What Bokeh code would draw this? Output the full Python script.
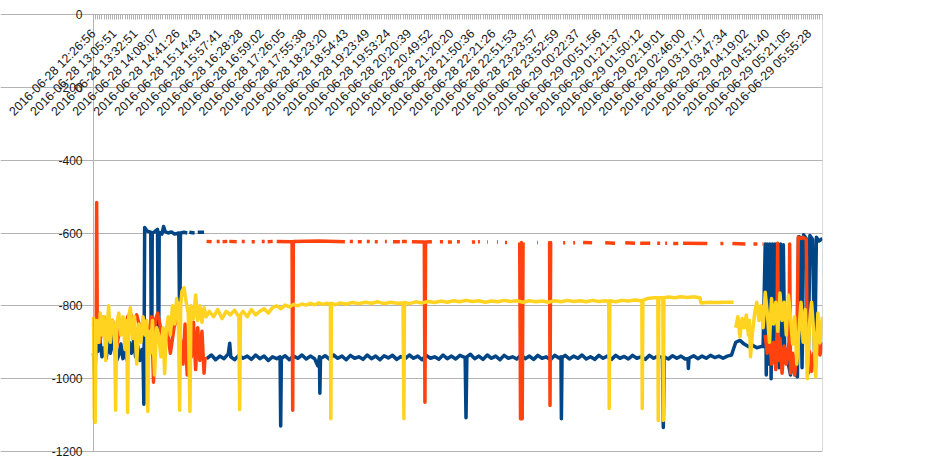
import numpy as np
from bokeh.plotting import figure
from bokeh.models import (Range1d, FixedTicker, LinearAxis, Legend, LegendItem, Grid,
                          LabelSet, ColumnDataSource)
from bokeh.core.properties import value
from bokeh.embed import file_html
from bokeh.resources import INLINE

# ---------------- data ----------------
tick_labels = [
    "2016-06-28 12:26:56", "2016-06-28 13:05:51", "2016-06-28 13:32:51", "2016-06-28 14:08:07",
    "2016-06-28 14:41:26", "2016-06-28 15:14:43", "2016-06-28 15:57:41", "2016-06-28 16:28:28",
    "2016-06-28 16:59:02", "2016-06-28 17:26:05", "2016-06-28 17:55:38", "2016-06-28 18:23:20",
    "2016-06-28 18:54:43", "2016-06-28 19:23:49", "2016-06-28 19:53:24", "2016-06-28 20:20:39",
    "2016-06-28 20:49:52", "2016-06-28 21:20:20", "2016-06-28 21:50:36", "2016-06-28 22:21:26",
    "2016-06-28 22:51:53", "2016-06-28 23:23:57", "2016-06-28 23:52:59", "2016-06-29 00:22:37",
    "2016-06-29 00:51:56", "2016-06-29 01:21:37", "2016-06-29 01:50:12", "2016-06-29 02:19:01",
    "2016-06-29 02:46:00", "2016-06-29 03:17:17", "2016-06-29 03:47:34", "2016-06-29 04:19:02",
    "2016-06-29 04:51:40", "2016-06-29 05:21:05", "2016-06-29 05:55:28",
]
tick_positions = [i * 10 for i in range(len(tick_labels))]   # sample index of each labelled category
n_samples = 346.2
y_ticks = [0, -200, -400, -600, -800, -1000, -1200]
y_tick_labels = ["0", "-200", "-400", "-600", "-800", "-1000", "-1200"]

series_names = ["rssi_6b2e", "rssi_52b1", "rssi a9d2"]

# (sample, rssi) points; None = missing values (gap)
rssi_6b2e = [
    (0, -930), (0.6, -1000), (1.2, -905), (2, -925), (3, -890), (4, -940), (5, -915), (6, -945),
    (7, -900), (8, -930), (9, -880), (10, -925), (11, -950), (12, -935), (13, -905), (14, -945),
    (15, -920), (16, -950), (17, -900), (18, -930), (19, -895), (20, -940), (21, -910), (22, -950),
    (23, -920), (23.5, -930), (23.9, -1070), (24.3, -585), (25.5, -595), (27.2, -598), (27.4, -900),
    (27.7, -905), (27.9, -600), (29, -597), (30.4, -590), (30.7, -880), (31.0, -885), (31.2, -598),
    (32.5, -603), (33.3, -582), (34, -596), (35.5, -600), (37, -597), (38.5, -603), (40.5, -600),
    (40.8, -780), (41.1, -785), (41.3, -600), (43, -598), (44.5, -600), None,
    (45.5, -598), (48, -600), None, (49.5, -598), (52.5, -598), None,
    (53.7, -945), (56, -935), (58, -948), (60, -938), (62, -945), (64, -932), (64.7, -903), (65.2, -940),
    (67, -948), (69, -936), (71, -944), (73, -938), (75, -947), (77, -935), (79, -945), (81, -938),
    (83, -950), (85, -940), (87, -945), (88.6, -940), (88.9, -1130), (89.2, -945), (91, -937),
    (93, -948), (95, -938), (97, -944), (99, -935), (101, -946), (103, -938), (105, -945),
    (106.5, -965), (107.3, -940), (107.5, -1040), (107.8, -945), (110, -937), (112, -946),
    (114, -935), (116, -944), (118, -938), (120, -948), (122, -936), (124, -944), (126, -940),
    (128, -947), (130, -935), (132, -945), (134, -938), (136, -948), (138, -937), (140, -943),
    (142, -936), (144, -947), (146, -939), (148, -945), (150, -935), (152, -944), (154, -938),
    (156, -948), (158, -936), (160, -944), (162, -940), (164, -947), (166, -935), (168, -945),
    (170, -938), (172, -946), (174, -936), (176.5, -942), (176.9, -1107), (177.3, -940),
    (179, -933), (181, -945), (183, -938), (185, -947), (187, -935), (189, -944), (191, -938),
    (193, -948), (195, -936), (197, -944), (199, -940), (201, -946), (203, -935), (205, -945),
    (207, -938), (209, -947), (211, -936), (213, -944), (215, -940), (217, -948), (219, -936),
    (221, -943), (222, -940), (222.2, -1110), (222.5, -942), (224, -936), (226, -946), (228, -938),
    (230, -944), (232, -935), (234, -946), (236, -940), (238, -947), (240, -936), (242, -944),
    (244, -938), (246, -947), (248, -936), (250, -944), (252, -939), (254, -946), (256, -936),
    (258, -944), (260, -940), (262, -947), (264, -936), (266, -944), (268, -938), (270.2, -942),
    (270.6, -1134), (271, -940), (273, -946), (275, -937), (277, -944), (279, -938), (281, -946),
    (282.3, -945), (282.5, -972), (282.8, -944), (285, -937), (287, -945), (289, -938), (291, -944),
    (293, -936), (295, -942), (297, -938), (299, -944), (301, -938), (303, -935), (305, -900),
    (307, -895), (309, -905), (311, -912), (313, -908), (315, -915), (317, -912), (318, -912),
    (319, -630), (319.5, -990), (320, -630), (320.6, -960), (321.2, -630), (321.8, -1000),
    (322.4, -630), (323, -940), (323.6, -630), (324.3, -920), (325, -635), (325.6, -970),
    (326.3, -630), (327, -925), (327.6, -632), (328.3, -950), (329, -920), (330, -960), (331, -990),
    (332, -945), (333, -985), (334.3, -995), (334.8, -610), (335.5, -612), (336.5, -970),
    (337.2, -605), (338.5, -615), (339.4, -985), (340.2, -607), (341.5, -618), (342.5, -960),
    (343.3, -612), (344.5, -622), (346.2, -615),
]

rssi_52b1 = [
    (0, -850), (0.8, -880), (1.3, -840), (1.5, -516), (1.8, -860), (3, -900), (5, -830), (7, -870),
    (9, -840), (11, -910), (13, -850), (15, -880), (16.2, -830), (17.5, -820), (19, -845),
    (20.5, -825), (22, -860), (24, -840), (26, -880), (27.6, -830), (28.5, -1010), (29.3, -840),
    (30.5, -820), (31.5, -850), (33, -900), (35, -860), (36.5, -930), (38.5, -850), (40, -840),
    (41.5, -900), (42.5, -960), (43.5, -850), (44.5, -990), (45.5, -880), (46.5, -940),
    (47.5, -845), (48.5, -975), (49.5, -860), (50.5, -950), (51.5, -870), (52.5, -985), (53, -940),
    None,
    (53.7, -623), (56.1, -624), None, (58.5, -623), (59.9, -623), None, (61.3, -624), (63.5, -623),
    None, (64.5, -623), (68, -624), None, (70.4, -623), (71.8, -623), None, (75.1, -624),
    (76.6, -624), None, (79.9, -623), (81.3, -623), None, (82.7, -624), (85.1, -623), None,
    (87, -623), (94.3, -624), (94.6, -1087), (94.9, -623), (107, -622), (119.4, -624), None,
    (121.7, -623), (123.2, -623), None, (125.5, -624), (127.4, -624), None, (129.8, -623),
    (131.2, -623), None, (133.6, -624), (135, -624), None, (138.4, -623), (139.3, -623), None,
    (142.2, -624), (145.5, -624), None, (146.5, -623), (148.8, -623), None,
    (151.2, -624), (157.1, -625), (157.4, -1065), (157.7, -625), (160.7, -624), None,
    (164.5, -624), (166, -624), None, (168.3, -625), (170.2, -625), None, (172.6, -624),
    (174, -624), None, (179.7, -625), (181.2, -625), None, (182.6, -624), (183.5, -624), None,
    (186.9, -625), (187.3, -625), None, (191.6, -625), (192.1, -625), None, (195.4, -626),
    (196.4, -626), None,
    (202.4, -626), (202.8, -1110), (203.2, -626), (203.6, -1110), (204, -626), None,
    (210.7, -626), (211.1, -626), None,
    (215.9, -627), (216.6, -627), (216.8, -1074), (217.1, -627), (217.8, -627), None,
    (223, -627), (224, -627), None, (227.8, -627), (228.7, -627), None, (232.5, -626),
    (236.8, -627), None, (243, -627), (247.7, -628), None, (252.5, -627), (257.2, -628), None,
    (259.6, -628), (264.4, -628), None, (267.7, -628), (269.1, -628), None, (271.5, -628),
    (272.4, -628), None, (275.3, -629), (277.7, -629), None, (280, -628), (291.5, -629), None,
    (297.7, -629), (299.1, -629), None, (303.4, -629), (309.6, -630), None, (313.4, -630),
    (315.3, -630), None, (317.7, -630), (318.2, -630), None,
    (319, -880), (320, -930), (321, -870), (322, -960), (323, -900), (324, -975), (324.6, -880),
    (324.9, -628), (325.3, -950), (326, -890), (327, -985), (328, -910), (329, -960),
    (330.3, -900), (330.6, -630), (331, -985), (332, -930), (333, -990), (334, -920),
    (334.7, -612), (336, -615), (337, -612), (338.5, -618), (339, -960), (340, -925), (341, -980),
    (342, -930), (343, -950), (344, -905), (345, -935), (346.2, -900),
]

rssi_a9d2 = [
    (0, -830), (0.4, -1110), (0.8, -1120), (1.2, -850), (1.5, -840), (2.5, -900), (3.2, -820),
    (4, -880), (5, -830), (5.8, -950), (6.5, -860), (7.2, -800), (8, -900), (9, -840), (10, -870),
    (10.5, -1087), (11, -850), (12, -820), (13, -880), (14, -830), (15, -920), (15.8, -840),
    (16.2, -1093), (16.7, -830), (17.5, -805), (18.5, -890), (19.5, -830), (20.5, -960),
    (21.5, -850), (22.5, -900), (23.5, -830), (24.5, -880), (25.3, -840), (25.8, -1090),
    (26.3, -870), (27, -930), (28, -840), (29, -990), (30, -860), (31, -880), (32, -940),
    (33, -860), (33.8, -986), (34.5, -870), (35.5, -830), (36.5, -880), (37.5, -800), (38.5, -850),
    (39.5, -780), (40.3, -830), (40.9, -1087), (41.4, -800), (42, -760), (43, -750), (44, -790),
    (45, -820), (45.8, -1090), (46.3, -800), (47.5, -835), (48.5, -770), (49.5, -840),
    (50.5, -800), (51.5, -845), (52.5, -805), (53.5, -830), (55, -815), (57, -830), (59, -810),
    (61, -835), (63, -815), (65, -825), (67, -812), (69, -830), (69.4, -1085), (69.8, -825),
    (71, -815), (73, -830), (75, -810), (77, -825), (79, -815), (81, -808), (83, -820), (85, -805),
    (87, -800), (89, -808), (91, -798), (93, -803), (95, -796), (97, -800), (99, -795), (101, -798),
    (103, -793), (105, -797), (107, -792), (109, -796), (111, -793), (112.5, -795), (112.7, -1110),
    (113, -793), (115, -797), (117, -792), (120, -795), (123, -791), (126, -794), (129, -790),
    (132, -793), (135, -789), (138, -794), (141, -790), (144, -793), (147, -792), (147.4, -1110),
    (147.7, -791), (150, -794), (153, -789), (156, -792), (159, -788), (162, -791), (165, -787),
    (168, -790), (171, -786), (174, -789), (177, -785), (180, -788), (183, -786), (186, -790),
    (189, -787), (192, -789), (195, -785), (198, -788), (201, -786), (204, -790), (207, -786),
    (210, -789), (213, -787), (216, -790), (219, -786), (222, -789), (225, -785), (228, -788),
    (231, -786), (234, -789), (237, -785), (240, -788), (243, -786), (244.7, -788), (244.9, -1082),
    (245.2, -786), (248, -789), (251, -785), (254, -787), (257, -784), (260.4, -786),
    (260.6, -1082), (260.9, -785), (263, -780), (266, -778), (268, -778), (268.2, -1115),
    (268.5, -778), (270.4, -778), (270.6, -1115), (270.9, -778), (273, -776), (276, -778),
    (279, -775), (282, -777), (285, -775), (288, -778), (288.5, -792), (292, -790), (296, -791),
    (300, -790), (304, -790), None,
    (305, -860), (306, -830), (307, -885), (308, -835), (309, -860), (310, -825), (311, -880),
    (311.5, -840), (312, -940), (313, -870), (314, -820), (315, -790), (316, -840), (317, -800),
    (318, -860), (319, -763), (320, -820), (321, -900), (322, -780), (323, -850), (324, -790),
    (325, -870), (326, -765), (327, -840), (328, -790), (329, -880), (330, -770), (331, -830),
    (332, -905), (333, -830), (334, -960), (335, -870), (336, -790), (337, -900), (338, -810),
    (339, -1000), (340, -850), (341, -790), (342, -870), (343, -995), (344, -820), (345, -900),
    (346.2, -830),
]

colors = ["#004586", "#ff420e", "#ffd320"]


def to_xy(points):
    xs, ys = [], []
    for pt in points:
        if pt is None:
            xs.append(np.nan)
            ys.append(np.nan)
        else:
            xs.append(pt[0])
            ys.append(pt[1])
    return np.array(xs, dtype=float), np.array(ys, dtype=float)


# ---------------- layout ----------------
W, H = 931, 458
PLOT_L, PLOT_R, PLOT_T, PLOT_B = 93, 822, 14, 451      # pixel box of the data area
Y_MIN, Y_MAX = -1200, 0
px_per_x = (PLOT_R - PLOT_L) / n_samples
px_per_y = (PLOT_B - PLOT_T) / (Y_MAX - Y_MIN)
x_start = -PLOT_L / px_per_x
y_end = Y_MAX + PLOT_T / px_per_y
y_start = Y_MIN - (H - PLOT_B) / px_per_y

FONT = "Liberation Sans"
GRID = "#b3b3b3"
TEXT = "#1a1a1a"

# frame spans the whole canvas except the legend column so slanted labels are not clipped
p = figure(width=W, height=H, output_backend="svg", toolbar_location=None,
           x_range=Range1d(x_start, n_samples), y_range=Range1d(y_start, y_end),
           x_axis_type=None, y_axis_type=None, title=None,
           min_border_left=0, min_border_right=W - PLOT_R, min_border_top=0, min_border_bottom=0)
p.background_fill_color = "white"
p.border_fill_color = "white"
p.outline_line_color = None

# y axis at x = 0
yaxis = LinearAxis(ticker=FixedTicker(ticks=y_ticks, minor_ticks=[]),
                   major_label_overrides={t: s for t, s in zip(y_ticks, y_tick_labels)},
                   fixed_location=0, bounds=(Y_MIN, Y_MAX))
yaxis.axis_line_color = GRID
yaxis.major_tick_line_color = GRID
yaxis.major_tick_out = 5
yaxis.major_tick_in = 0
yaxis.minor_tick_line_color = None
yaxis.major_label_standoff = 6
yaxis.major_label_text_font = FONT
yaxis.major_label_text_font_size = "12px"
yaxis.major_label_text_color = TEXT
p.add_layout(yaxis, "left")

# right border of the data area
rborder = LinearAxis(ticker=FixedTicker(ticks=[], minor_ticks=[]), fixed_location=n_samples,
                     bounds=(Y_MIN, Y_MAX))
rborder.axis_line_color = GRID
rborder.major_tick_line_color = None
rborder.minor_tick_line_color = None
rborder.major_label_text_font_size = "1px"
p.add_layout(rborder, "right")

# x axis crossing at y = 0 (top of the data area)
xaxis = LinearAxis(ticker=FixedTicker(ticks=tick_positions, minor_ticks=list(range(0, 347))),
                   major_label_overrides={t: "" for t in tick_positions},
                   fixed_location=0, bounds=(0, n_samples))
xaxis.axis_line_color = GRID
xaxis.major_tick_line_color = GRID
xaxis.minor_tick_line_color = GRID
xaxis.major_tick_out = 5
xaxis.major_tick_in = 0
xaxis.minor_tick_out = 5
xaxis.minor_tick_in = 0
xaxis.major_label_text_font_size = "1px"
p.add_layout(xaxis, "below")

# horizontal grid
p.add_layout(Grid(dimension=1, ticker=yaxis.ticker, grid_line_color=GRID, grid_line_width=1,
                  bounds=(0, n_samples)))

renderers = []
for pts, c in zip([rssi_6b2e, rssi_52b1, rssi_a9d2], colors):
    xs, ys = to_xy(pts)
    r = p.line(xs, ys, line_color=c, line_width=3.5, line_join="round")
    renderers.append(r)

# slanted category labels hanging below the top axis
lab_src = ColumnDataSource(dict(x=tick_positions, y=[0] * len(tick_positions), text=tick_labels))
labels = LabelSet(x="x", y="y", text="text", source=lab_src, angle=np.pi / 4,
                  text_align="right", text_baseline="middle", x_offset=0, y_offset=-17,
                  text_font=value(FONT), text_font_size=value("12.5px"), text_color=TEXT)
p.add_layout(labels)

legend = Legend(items=[LegendItem(label=n, renderers=[r]) for n, r in zip(series_names, renderers)],
                location=(845, 197))
legend.glyph_width = 28
legend.glyph_height = 19
legend.label_height = 19
legend.spacing = 0
legend.label_standoff = 5
legend.padding = 0
legend.margin = 0
legend.border_line_alpha = 0
legend.background_fill_alpha = 0
legend.label_text_font = FONT
legend.label_text_font_size = "13px"
legend.label_text_color = TEXT
p.add_layout(legend, "center")

open("out.html", "w").write(file_html(p, INLINE))
